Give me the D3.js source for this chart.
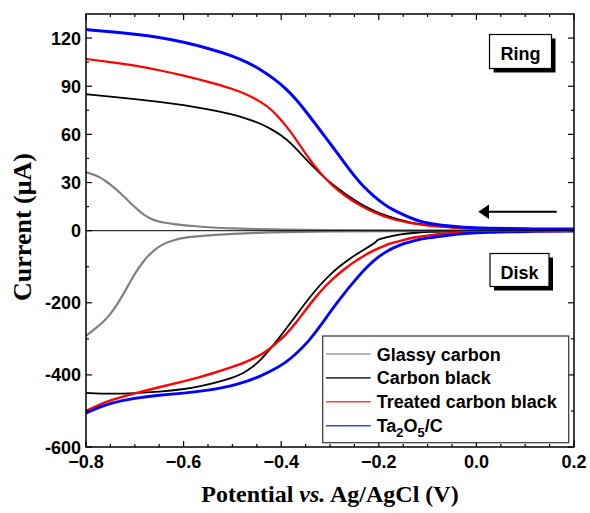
<html>
<head>
<meta charset="utf-8">
<style>
    body { margin: 0; background: #ffffff; }
    svg { display: block; }
    .tick-label { font-family: "Liberation Sans", Arial, sans-serif; font-weight: bold; font-size: 18px; }
    .axis-title { font-family: "Liberation Serif", "Times New Roman", serif; font-weight: bold; }
</style>
</head>
<body>
<svg id="chart"></svg>
<script src="https://d3js.org/d3.v7.min.js"></script>
<script>
// potential (V) vs current (uA); ring currents positive, disk currents negative
const xTicks = [-0.8, -0.6, -0.4, -0.2, 0.0, 0.2];
const yTicks = [-600, -400, -200, 0, 30, 60, 90, 120];
const seriesNames = ["Glassy carbon", "Carbon black", "Treated carbon black", "Ta2O5/C"];

const glassyRing = [[-0.8,36.3],[-0.79,35.6],[-0.78,34.4],[-0.77,33],[-0.76,31],[-0.75,28.7],[-0.74,26.2],[-0.73,23.5],
    [-0.72,20.6],[-0.71,17.6],[-0.7,14.7],[-0.69,12],[-0.68,9.6],[-0.67,7.8],[-0.66,6.5],[-0.65,5.6],[-0.64,5],
    [-0.62,4],[-0.58,2.9],[-0.54,1.9],[-0.5,1.4],[-0.45,0.9],[-0.4,0.6],[-0.3,0.35],[-0.2,0.2],[0.2,0.1]];
const blackRing = [[-0.8,85],[-0.75,83.6],[-0.7,82],[-0.65,80.3],[-0.6,78.3],[-0.55,75.6],[-0.5,72.5],[-0.47,69.8],
    [-0.44,66.5],[-0.42,63.2],[-0.4,59.5],[-0.38,54.5],[-0.36,48],[-0.34,41.5],[-0.32,35.5],[-0.3,30],[-0.28,25.5],
    [-0.26,21],[-0.24,17.2],[-0.22,13.8],[-0.2,11],[-0.18,8.8],[-0.16,7],[-0.14,5.5],[-0.12,4.4],[-0.1,3.5],
    [-0.07,2.6],[-0.04,1.8],[0,1.2],[0.1,0.7],[0.2,0.5]];
const treatedRing = [[-0.8,107],[-0.75,105],[-0.7,103],[-0.65,100],[-0.6,96.7],[-0.55,92.8],[-0.5,88.5],[-0.47,85],
    [-0.44,80],[-0.42,75.5],[-0.4,69],[-0.38,61.5],[-0.36,52.5],[-0.34,43.5],[-0.32,36],[-0.3,29.5],[-0.28,24.2],
    [-0.26,19.8],[-0.24,16],[-0.22,12.8],[-0.2,10.2],[-0.18,8],[-0.16,6.3],[-0.14,5],[-0.12,4],[-0.1,3.2],
    [-0.075,2.5],[-0.04,1.8],[0,1.2],[0.1,0.7],[0.2,0.5]];
const taRing = [[-0.8,125.3],[-0.75,124],[-0.7,122.5],[-0.65,120.5],[-0.6,117.5],[-0.55,113.7],[-0.5,109],[-0.47,105],
    [-0.44,100],[-0.416,95],[-0.39,88.5],[-0.37,82],[-0.35,74.5],[-0.33,66.5],[-0.31,58.5],[-0.29,50.5],[-0.27,42],
    [-0.25,34],[-0.23,27],[-0.21,21.5],[-0.19,16.5],[-0.17,12.8],[-0.15,10],[-0.13,7.3],[-0.11,5.4],[-0.09,4.2],
    [-0.06,3],[-0.03,2.1],[0.02,1.5],[0.1,1.1],[0.2,1]];

const glassyDisk = [[-0.8,-292],[-0.784,-275],[-0.763,-252],[-0.743,-220],[-0.722,-173],[-0.702,-123],[-0.681,-81],
    [-0.661,-53.5],[-0.64,-35],[-0.62,-26],[-0.6,-19],[-0.558,-14],[-0.538,-12],[-0.5,-9],[-0.45,-6],[-0.4,-4],
    [-0.3,-2],[-0.2,-1],[0.2,0]];
const blackDisk = [[-0.8,-450],[-0.75,-453],[-0.7,-451],[-0.65,-447],[-0.6,-440],[-0.566,-432],[-0.53,-420],
    [-0.5,-408],[-0.48,-397],[-0.46,-380],[-0.44,-356],[-0.42,-324],[-0.4,-290],[-0.38,-254],[-0.36,-218],
    [-0.34,-182],[-0.32,-150],[-0.3,-122],[-0.28,-98],[-0.26,-78],[-0.24,-60],[-0.22,-44],[-0.207,-33],
    [-0.205,-29],[-0.203,-25],[-0.18,-17],[-0.16,-11],[-0.13,-6],[-0.1,-3],[-0.05,-1.5],[0.2,-0.5]];
const treatedDisk = [[-0.8,-500],[-0.77,-481],[-0.75,-470],[-0.7,-451],[-0.65,-434],[-0.6,-418],[-0.566,-406],
    [-0.539,-395],[-0.5,-378],[-0.471,-364],[-0.45,-350],[-0.43,-335],[-0.41,-312],[-0.39,-288],[-0.37,-256],
    [-0.35,-220],[-0.33,-185],[-0.31,-154],[-0.29,-128],[-0.27,-106],[-0.25,-86],[-0.23,-69],[-0.21,-54],
    [-0.19,-42],[-0.17,-33],[-0.15,-26],[-0.13,-19],[-0.096,-12],[-0.05,-6],[-0.01,-3],[0.05,-1.5],[0.2,-0.5]];
const taDisk = [[-0.8,-506],[-0.77,-488],[-0.75,-478],[-0.7,-464],[-0.65,-456],[-0.6,-451],[-0.55,-443],[-0.5,-430],
    [-0.47,-418],[-0.44,-402],[-0.416,-386],[-0.39,-365],[-0.368,-340],[-0.344,-307],[-0.32,-265],[-0.296,-218],
    [-0.27,-172],[-0.25,-140],[-0.23,-108],[-0.21,-82],[-0.19,-62],[-0.17,-47],[-0.15,-36],[-0.13,-28],[-0.1,-20],
    [-0.06,-13],[-0.027,-8],[0.02,-4],[0.1,-2],[0.2,-1]];

const seriesColors = ["#808080", "#000000", "#ff0000", "#0000ff"];

function getConfig() {
    let width = 590, height = 513;
    let plot = {left: 86, right: 574, top: 14, bottom: 447};
    let svg = d3.select("#chart").attr("width", width).attr("height", height);
    return {width, height, plot, svg};
}

function getScales(config) {
    let {plot} = config;
    let x = d3.scaleLinear().domain([-0.8, 0.2]).range([plot.left, plot.right]);
    // broken y scale: disk half and ring half share the zero line
    let y = d3.scaleLinear().domain([-600, 0, 135]).range([plot.bottom, 230.7, plot.top]);
    return {x, y};
}

function drawAxes(config, scales) {
    let {svg, plot} = config;
    let {x, y} = scales;
    let xMinor = d3.range(-0.8, 0.2001, 0.05).filter(v => !xTicks.some(t => Math.abs(t - v) < 1e-6));
    let yMinor = [-500, -300, -100, 15, 45, 75, 105];

    let axes = svg.append("g").attr("stroke", "#000").attr("stroke-width", 1.2);
    // inward ticks on all four sides
    xTicks.forEach(v => {
        axes.append("line").attr("x1", x(v)).attr("x2", x(v)).attr("y1", plot.bottom).attr("y2", plot.bottom - 6);
        axes.append("line").attr("x1", x(v)).attr("x2", x(v)).attr("y1", plot.top).attr("y2", plot.top + 6);
    });
    xMinor.forEach(v => {
        axes.append("line").attr("x1", x(v)).attr("x2", x(v)).attr("y1", plot.bottom).attr("y2", plot.bottom - 3);
        axes.append("line").attr("x1", x(v)).attr("x2", x(v)).attr("y1", plot.top).attr("y2", plot.top + 3);
    });
    yTicks.forEach(v => {
        axes.append("line").attr("y1", y(v)).attr("y2", y(v)).attr("x1", plot.left).attr("x2", plot.left + 6);
        axes.append("line").attr("y1", y(v)).attr("y2", y(v)).attr("x1", plot.right).attr("x2", plot.right - 6);
    });
    yMinor.forEach(v => {
        axes.append("line").attr("y1", y(v)).attr("y2", y(v)).attr("x1", plot.left).attr("x2", plot.left + 3);
        axes.append("line").attr("y1", y(v)).attr("y2", y(v)).attr("x1", plot.right).attr("x2", plot.right - 3);
    });

    // zero line
    svg.append("line").attr("x1", plot.left).attr("x2", plot.right).attr("y1", y(0)).attr("y2", y(0))
        .attr("stroke", "#000").attr("stroke-width", 1);

    svg.append("rect").attr("x", plot.left).attr("y", plot.top)
        .attr("width", plot.right - plot.left).attr("height", plot.bottom - plot.top)
        .attr("fill", "none").attr("stroke", "#000").attr("stroke-width", 1.5);

    svg.selectAll(".xlab").data(xTicks).enter().append("text")
        .attr("class", "tick-label").attr("x", d => x(d)).attr("y", 468)
        .attr("text-anchor", "middle").text(d => d3.format(".1f")(d));
    svg.selectAll(".ylab").data(yTicks).enter().append("text")
        .attr("class", "tick-label").attr("x", 81).attr("y", d => y(d) + 6.5)
        .attr("text-anchor", "end").text(d => d);

    svg.append("text").attr("class", "axis-title").attr("font-size", 26)
        .attr("transform", "translate(31,227) rotate(-90)").attr("text-anchor", "middle")
        .text("Current (\u03bcA)");

    let xt = svg.append("text").attr("class", "axis-title").attr("font-size", 24)
        .attr("x", 330).attr("y", 502).attr("text-anchor", "middle");
    xt.append("tspan").text("Potential ");
    xt.append("tspan").attr("font-style", "italic").text("vs.");
    xt.append("tspan").text(" Ag/AgCl (V)");
}

function drawSeries(config, scales) {
    let {svg} = config;
    let {x, y} = scales;
    let line = d3.line().x(d => x(d[0])).y(d => y(d[1])).curve(d3.curveBasis);
    let rings = [glassyRing, blackRing, treatedRing, taRing];
    let disks = [glassyDisk, blackDisk, treatedDisk, taDisk];
    let ringWidths = [2.2, 1.8, 2.2, 3];
    let diskWidths = [2.2, 1.8, 2.4, 2.8];

    let g = svg.append("g").attr("fill", "none").attr("stroke-linejoin", "round");
    disks.forEach((data, i) => {
        g.append("path").attr("d", line(data)).attr("stroke", seriesColors[i]).attr("stroke-width", diskWidths[i]);
    });
    rings.forEach((data, i) => {
        g.append("path").attr("d", line(data)).attr("stroke", seriesColors[i]).attr("stroke-width", ringWidths[i]);
    });
}

function drawLabelBox(svg, text, x, y, w, h) {
    svg.append("rect").attr("x", x + 4).attr("y", y + 4).attr("width", w).attr("height", h).attr("fill", "#000");
    svg.append("rect").attr("x", x).attr("y", y).attr("width", w).attr("height", h)
        .attr("fill", "#fff").attr("stroke", "#000").attr("stroke-width", 1.2);
    svg.append("text").attr("class", "tick-label").attr("font-size", 24)
        .attr("x", x + w / 2).attr("y", y + h / 2 + 8.5).attr("text-anchor", "middle").text(text);
}

function drawAnnotations(config) {
    let {svg} = config;
    drawLabelBox(svg, "Ring", 489.5, 34.5, 62, 34);
    drawLabelBox(svg, "Disk", 490, 253.5, 59, 33);

    // scan direction arrow
    svg.append("line").attr("x1", 556.7).attr("x2", 486).attr("y1", 211.7).attr("y2", 211.7)
        .attr("stroke", "#000").attr("stroke-width", 2);
    svg.append("path").attr("d", "M478.3,211.7 L489,204.5 L489,218.9 Z").attr("fill", "#000");
}

function drawLegend(config) {
    let {svg} = config;
    let lx = 322.7, ly = 336, lw = 246, lh = 106.7;
    let legend = svg.append("g");
    legend.append("rect").attr("x", lx).attr("y", ly).attr("width", lw).attr("height", lh)
        .attr("fill", "#fff").attr("stroke", "#333").attr("stroke-width", 1.2);

    let rows = legend.selectAll(".row").data(seriesNames).enter().append("g")
        .attr("transform", (d, i) => `translate(0, ${354 + i * 23.9})`);
    rows.append("line").attr("x1", 326).attr("x2", 370.7).attr("y1", 0).attr("y2", 0)
        .attr("stroke", (d, i) => seriesColors[i]).attr("stroke-width", 1.6).attr("opacity", 0.75);
    rows.each(function (d) {
        let t = d3.select(this).append("text").attr("class", "tick-label").attr("font-size", 18.8)
            .attr("x", 376.7).attr("y", 6.5);
        if (d === "Ta2O5/C") {
            t.append("tspan").text("Ta");
            t.append("tspan").attr("dy", 5).attr("font-size", 13).text("2");
            t.append("tspan").attr("dy", -5).text("O");
            t.append("tspan").attr("dy", 5).attr("font-size", 13).text("5");
            t.append("tspan").attr("dy", -5).text("/C");
        } else {
            t.text(d);
        }
    });
}

function showChart() {
    let config = getConfig();
    let scales = getScales(config);
    drawSeries(config, scales);
    drawAxes(config, scales);
    drawAnnotations(config);
    drawLegend(config);
}

showChart();
</script>
</body>
</html>
